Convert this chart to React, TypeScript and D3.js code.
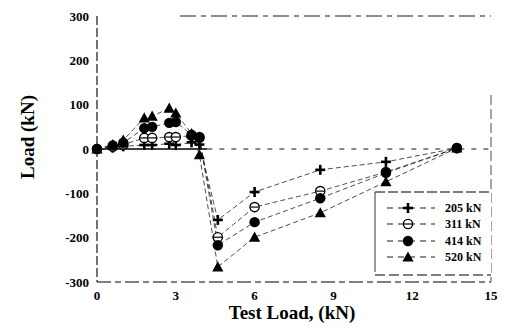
import React from "react";
import * as d3 from "d3";

const testLoad = [0, 0.6, 1.0, 1.8, 2.1, 2.75, 3.0, 3.6, 3.9, 4.6, 6.0, 8.5, 11.0, 13.7];
const load205 = [0, 3, 6, 9, 9, 12, 9, 15, 10, -160, -97, -47, -29, 2];
const load311 = [0, 5, 10, 25, 25, 27, 27, 30, 27, -199, -131, -95, -52, 2];
const load414 = [0, 8, 14, 47, 50, 59, 61, 32, 25, -217, -165, -111, -54, 2];
const load520 = [0, 10, 20, 70, 74, 92, 81, 35, -13, -266, -199, -144, -74, 2];
const seriesNames = ["205 kN", "311 kN", "414 kN", "520 kN"];
const markerKinds = ["plus", "ocircle", "circle", "triangle"];
const xTicks = [0, 3, 6, 9, 12, 15];
const yTicks = [-300, -200, -100, 0, 100, 200, 300];

const W = 509, H = 332;
const L = 97, R = 491, T = 16, B = 282;

function Marker({ kind, x, y }: { kind: string; x: number; y: number }) {
  if (kind === "plus") {
    return (
      <g stroke="#000" strokeWidth={2.6}>
        <line x1={x - 5} x2={x + 5} y1={y} y2={y} />
        <line x1={x} x2={x} y1={y - 5} y2={y + 5} />
      </g>
    );
  }
  if (kind === "ocircle") {
    return (
      <g>
        <circle cx={x} cy={y} r={4.6} fill="#fff" stroke="#000" strokeWidth={1.4} />
        <line x1={x - 4} x2={x + 4} y1={y} y2={y} stroke="#000" strokeWidth={1.2} />
      </g>
    );
  }
  if (kind === "circle") {
    return <circle cx={x} cy={y} r={5.2} fill="#000" />;
  }
  const s = 5.6;
  return <path d={`M${x},${y - s}L${x + s},${y + s * 0.8}L${x - s},${y + s * 0.8}Z`} fill="#000" />;
}

const serif = { fontFamily: "'Liberation Serif', 'Times New Roman', 'DejaVu Serif', serif" };

export default function App() {
  const x = d3.scaleLinear().domain([0, 15]).range([L, R]);
  const y = d3.scaleLinear().domain([-300, 300]).range([B, T]);
  const all = [load205, load311, load414, load520];
  const line = d3
    .line<number>()
    .x((_, i) => x(testLoad[i]))
    .y((d) => y(d));
  const legendRows = [208, 224, 241, 257];
  return (
    <svg width={W} height={H} style={{ position: "absolute", left: 0, top: 0 }}>
      <rect width={W} height={H} fill="#fff" />
      {/* frame */}
      <line x1={L} x2={L} y1={T} y2={B} stroke="#000" strokeWidth={1.1} strokeDasharray="9,3" />
      <line x1={L} x2={R} y1={B} y2={B} stroke="#000" strokeWidth={1.1} strokeDasharray="14,4,6,4" />
      <line x1={180} x2={R} y1={T} y2={T} stroke="#000" strokeWidth={0.9} strokeDasharray="16,5,5,5" />
      <line x1={R} x2={R} y1={95} y2={B} stroke="#888" strokeWidth={1.5} strokeDasharray="10,4" />
      {/* zero line */}
      <line x1={L} x2={x(4.2)} y1={y(0)} y2={y(0)} stroke="#000" strokeWidth={1.4} />
      <line x1={x(4.2)} x2={R} y1={y(0)} y2={y(0)} stroke="#000" strokeWidth={0.9} strokeDasharray="5,7" />
      {/* ticks */}
      {yTicks.map((t) => (
        <text key={t} x={89} y={y(t)} dy="0.35em" textAnchor="end" fontSize={13} fontWeight="bold" style={serif}>
          {t}
        </text>
      ))}
      {xTicks.map((t) => (
        <text key={t} x={x(t)} y={295} dy="0.35em" textAnchor="middle" fontSize={13} fontWeight="bold" style={serif}>
          {t}
        </text>
      ))}
      <text x={292} y={319} textAnchor="middle" fontSize={19} fontWeight="bold" style={serif}>
        Test Load, (kN)
      </text>
      <text transform="translate(27,137) rotate(-90)" textAnchor="middle" dy="0.35em" fontSize={19} fontWeight="bold" style={serif}>
        Load (kN)
      </text>
      {/* series */}
      {all.map((s, k) => (
        <path key={k} d={line(s) || ""} fill="none" stroke="#222" strokeWidth={0.8} strokeDasharray="5,3" />
      ))}
      {all.map((s, k) =>
        s.map((v, i) => <Marker key={k + "-" + i} kind={markerKinds[k]} x={x(testLoad[i])} y={y(v)} />)
      )}
      {/* legend */}
      <rect x={375} y={192} width={R - 375} height={275 - 192} fill="#fff" stroke="none" />
      <line x1={375} x2={R} y1={192} y2={192} stroke="#000" strokeWidth={1.1} strokeDasharray="10,3" />
      <line x1={375} x2={375} y1={192} y2={272} stroke="#555" strokeWidth={1.2} />
      <line x1={375} x2={R} y1={275} y2={275} stroke="#000" strokeWidth={1.1} strokeDasharray="10,4" />
      {seriesNames.map((n, k) => (
        <g key={n}>
          <line x1={387} x2={435} y1={legendRows[k]} y2={legendRows[k]} stroke="#000" strokeWidth={0.9} strokeDasharray="6,5" />
          <Marker kind={markerKinds[k]} x={408} y={legendRows[k]} />
          <text x={445} y={legendRows[k]} dy="0.35em" fontSize={12} fontWeight="bold" style={serif}>
            {n}
          </text>
        </g>
      ))}
    </svg>
  );
}
